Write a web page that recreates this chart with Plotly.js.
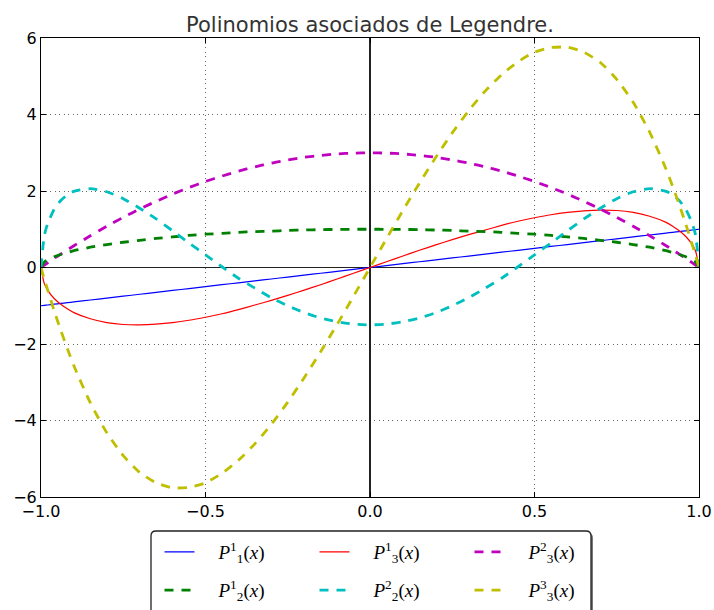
<!DOCTYPE html>
<html><head><meta charset="utf-8">
<script src="https://cdn.plot.ly/plotly-3.0.1.min.js"></script>
<style>html,body{margin:0;padding:0;background:#fff}#chart{width:714px;height:610px}</style>
</head><body><div id="chart"></div>
<script>
var xs = [-1,-0.99,-0.98,-0.96,-0.94,-0.92,-0.9,-0.85,-0.8,-0.75,-0.7,-0.65,-0.6,-0.55,-0.5,-0.45,-0.4,-0.35,-0.3,-0.25,-0.2,-0.15,-0.1,-0.05,0,
  0.05,0.1,0.15,0.2,0.25,0.3,0.35,0.4,0.45,0.5,0.55,0.6,0.65,0.7,0.75,0.8,0.85,0.9,0.92,0.94,0.96,0.98,0.99,1];
var p11 = [-1,-0.99,-0.98,-0.96,-0.94,-0.92,-0.9,-0.85,-0.8,-0.75,-0.7,-0.65,-0.6,-0.55,-0.5,-0.45,-0.4,-0.35,-0.3,-0.25,-0.2,-0.15,-0.1,-0.05,0,
  0.05,0.1,0.15,0.2,0.25,0.3,0.35,0.4,0.45,0.5,0.55,0.6,0.65,0.7,0.75,0.8,0.85,0.9,0.92,0.94,0.96,0.98,0.99,1];
var p21 = [0,0.14,0.2,0.28,0.34,0.39,0.44,0.53,0.6,0.66,0.71,0.76,0.8,0.84,0.87,0.89,0.92,0.94,0.95,0.97,0.98,0.99,0.995,0.999,1,
  0.999,0.995,0.99,0.98,0.97,0.95,0.94,0.92,0.89,0.87,0.84,0.8,0.76,0.71,0.66,0.6,0.53,0.44,0.39,0.34,0.28,0.2,0.14,0];
var p31 = [0,-0.42,-0.59,-0.81,-0.96,-1.08,-1.18,-1.34,-1.44,-1.49,-1.5,-1.48,-1.44,-1.38,-1.3,-1.21,-1.1,-0.98,-0.86,-0.73,-0.59,-0.45,-0.3,-0.15,0,
  0.15,0.3,0.45,0.59,0.73,0.86,0.98,1.1,1.21,1.3,1.38,1.44,1.48,1.5,1.49,1.44,1.34,1.18,1.08,0.96,0.81,0.59,0.42,0];
var p22 = [0,0.83,1.14,1.52,1.75,1.9,1.99,2.06,1.98,1.8,1.55,1.27,0.96,0.64,0.33,0.02,-0.28,-0.54,-0.79,-1.0,-1.18,-1.32,-1.42,-1.48,-1.5,
  -1.48,-1.42,-1.32,-1.18,-1.0,-0.79,-0.54,-0.28,0.02,0.33,0.64,0.96,1.27,1.55,1.8,1.98,2.06,1.99,1.9,1.75,1.52,1.14,0.83,0];
var p32 = [0,0.06,0.12,0.24,0.35,0.46,0.57,0.83,1.08,1.31,1.53,1.73,1.92,2.09,2.25,2.39,2.52,2.63,2.73,2.81,2.88,2.93,2.97,2.99,3,
  2.99,2.97,2.93,2.88,2.81,2.73,2.63,2.52,2.39,2.25,2.09,1.92,1.73,1.53,1.31,1.08,0.83,0.57,0.46,0.35,0.24,0.12,0.06,0];
var p33 = [0,-0.3,-0.58,-1.13,-1.64,-2.12,-2.57,-3.54,-4.32,-4.92,-5.36,-5.63,-5.76,-5.75,-5.63,-5.38,-5.04,-4.61,-4.1,-3.52,-2.88,-2.2,-1.49,-0.75,0,
  0.75,1.49,2.2,2.88,3.52,4.1,4.61,5.04,5.38,5.63,5.75,5.76,5.63,5.36,4.92,4.32,3.54,2.57,2.12,1.64,1.13,0.58,0.3,0];
var gap = '&nbsp;&nbsp;&nbsp;&nbsp;';
var names = {
  p11: gap + '<i>P</i><sup>1</sup><sub>1</sub>(<i>x</i>)',
  p21: gap + '<i>P</i><sup>1</sup><sub>2</sub>(<i>x</i>)',
  p31: gap + '<i>P</i><sup>1</sup><sub>3</sub>(<i>x</i>)',
  p22: gap + '<i>P</i><sup>2</sup><sub>2</sub>(<i>x</i>)',
  p32: gap + '<i>P</i><sup>2</sup><sub>3</sub>(<i>x</i>)',
  p33: gap + '<i>P</i><sup>3</sup><sub>3</sub>(<i>x</i>)'
};
var dashStyle = '9px,8px';
function tr(y, name, color, dashed, leg){
  return {x: xs, y: y, name: name, mode: 'lines', legend: leg,
    line: {color: color, width: dashed ? 2.8 : 1.2, dash: dashed ? dashStyle : 'solid', shape: 'spline', smoothing: 0.6}};
}
var data = [
  tr(p11, names.p11, '#0000ff', false, 'legend'),
  tr(p31, names.p31, '#ff0000', false, 'legend'),
  tr(p32, names.p32, '#bf00bf', true, 'legend'),
  tr(p21, names.p21, '#008000', true, 'legend2'),
  tr(p22, names.p22, '#00bfbf', true, 'legend2'),
  tr(p33, names.p33, '#bfbf00', true, 'legend2')
];
var legFont = {family: 'Liberation Serif, DejaVu Serif, serif', size: 19, color: '#000'};
var legBase = {orientation: 'h', xanchor: 'center', yanchor: 'middle', x: 0.5 + 22 / 658,
  bgcolor: 'rgba(0,0,0,0)', borderwidth: 0, font: legFont, entrywidth: 110, itemwidth: 30, traceorder: 'normal'};
// rounded legend frame (paper coords)
var fx0 = (151 - 41) / 658, fx1 = (591 - 41) / 658, fy0 = (497 - 531) / 459, fy1 = (497 - 640) / 459;
var rx = 5 / 658, ry = 5 / 459;
function roundPath(x0, x1, y0, y1){
  return 'M ' + x0 + ' ' + y1 + ' L ' + x0 + ' ' + (y0 - ry) + ' Q ' + x0 + ' ' + y0 + ' ' + (x0 + rx) + ' ' + y0 +
    ' L ' + (x1 - rx) + ' ' + y0 + ' Q ' + x1 + ' ' + y0 + ' ' + x1 + ' ' + (y0 - ry) + ' L ' + x1 + ' ' + y1 + ' Z';
}
var sx = 2 / 658, sy = 2 / 459;
var layout = {
  width: 714, height: 610,
  margin: {l: 41, r: 15, t: 38, b: 113, autoexpand: false},
  paper_bgcolor: '#fff', plot_bgcolor: '#fff',
  title: {text: 'Polinomios asociados de Legendre.', font: {family: 'DejaVu Sans', size: 21, color: '#333'}, x: 0.5, xref: 'paper', xanchor: 'center', y: 1, yref: 'paper', yanchor: 'bottom', pad: {b: 6}},
  xaxis: {range: [-1, 1], dtick: 0.5, tick0: -1, tickformat: '.1f', ticks: 'inside', ticklen: 5, tickcolor: '#000',
    showline: true, linecolor: '#000', linewidth: 1, mirror: 'ticks',
    showgrid: true, gridcolor: '#666', griddash: '1px,3.5px', gridwidth: 1,
    zeroline: true, zerolinecolor: '#222', zerolinewidth: 1.5,
    tickfont: {family: 'DejaVu Sans', size: 16, color: '#000'}},
  yaxis: {range: [-6, 6], dtick: 2, ticks: 'inside', ticklen: 5, tickcolor: '#000',
    showline: true, linecolor: '#000', linewidth: 1, mirror: 'ticks',
    showgrid: true, gridcolor: '#666', griddash: '1px,3.5px', gridwidth: 1,
    zeroline: true, zerolinecolor: '#222', zerolinewidth: 1.5,
    tickfont: {family: 'DejaVu Sans', size: 16, color: '#000'}},
  legend: Object.assign({}, legBase, {y: -0.12}),
  legend2: Object.assign({}, legBase, {y: -0.203}),
  shapes: [
    {type: 'path', xref: 'paper', yref: 'paper', path: roundPath(fx0 + sx, fx1 + sx, fy0 - sy, fy1 - sy), fillcolor: '#777', line: {width: 0}, layer: 'above'},
    {type: 'path', xref: 'paper', yref: 'paper', path: roundPath(fx0, fx1, fy0, fy1), fillcolor: '#fff', line: {color: '#222', width: 1.3}, layer: 'above'}
  ],
  showlegend: true
};
Plotly.newPlot('chart', data, layout, {displayModeBar: false, staticPlot: true});
</script></body></html>
